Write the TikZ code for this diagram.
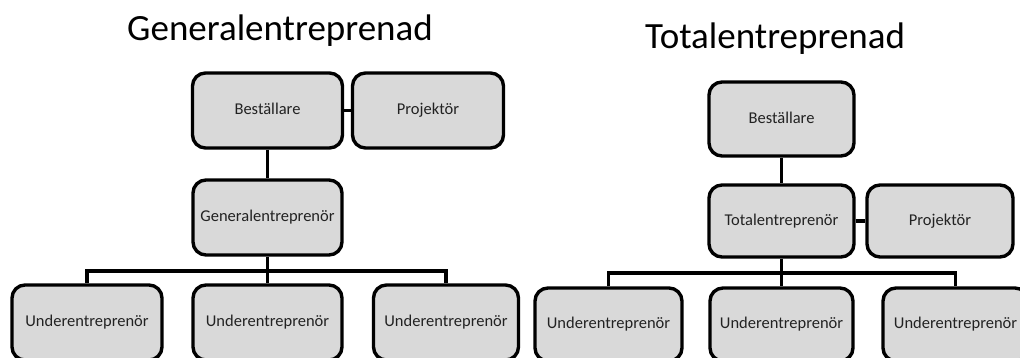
\documentclass[tikz,border=0pt]{standalone}
\usepackage{fontspec}
\setmainfont{Carlito}
\usetikzlibrary{backgrounds}
\definecolor{boxfill}{HTML}{D9D9D9}
\definecolor{boxtext}{HTML}{222222}
\tikzset{
  orgbox/.style={draw=black, line width=3.4pt, fill=boxfill, rounded corners=13pt,
    text=boxtext, font=\fontsize{16.5}{19}\selectfont, align=center, inner sep=0pt,
    text height=11pt, text depth=3pt},
  link/.style={draw=black, line width=3.2pt},
  heading/.style={font=\fontsize{37}{42}\selectfont, text=black, anchor=base, inner sep=0pt}
}
\begin{document}
\begin{tikzpicture}[x=1pt,y=-1pt]
\useasboundingbox (0,0) rectangle (1020,357);
\clip (0,0) rectangle (1020,357);

% Left chart
\node[heading] (t1) at (280,40) {Generalentreprenad};
\node[orgbox, minimum width=150pt, minimum height=75pt] (B1) at (267.5,110.5) {Beställare};
\node[orgbox, minimum width=151pt, minimum height=75pt] (P1) at (428,110.5) {Projektör};
\node[orgbox, minimum width=149pt, minimum height=75pt] (G1) at (267.5,217.5) {Generalentreprenör};
\node[orgbox, minimum width=150pt, minimum height=75pt] (U1a) at (87,322.5) {Underentreprenör};
\node[orgbox, minimum width=149pt, minimum height=75pt] (U1b) at (267.5,322.5) {Underentreprenör};
\node[orgbox, minimum width=145pt, minimum height=75pt] (U1c) at (446,322.5) {Underentreprenör};
\coordinate (j1) at (267.5,271);

% Right chart
\node[heading] (t2) at (775,48) {Totalentreprenad};
\node[orgbox, minimum width=145pt, minimum height=74pt] (B2) at (781.5,119) {Beställare};
\node[orgbox, minimum width=145pt, minimum height=72pt] (T2) at (781.5,221) {Totalentreprenör};
\node[orgbox, minimum width=146pt, minimum height=72pt] (P2) at (940,221) {Projektör};
\node[orgbox, minimum width=147pt, minimum height=73pt] (U2a) at (608.5,324.5) {Underentreprenör};
\node[orgbox, minimum width=143pt, minimum height=73pt] (U2b) at (781.5,324.5) {Underentreprenör};
\node[orgbox, minimum width=145pt, minimum height=73pt] (U2c) at (955.5,324.5) {Underentreprenör};
\coordinate (j2) at (781.5,273);

\begin{pgfonlayer}{background}
  \draw[link] (B1) -- (P1);
  \draw[link] (B1) -- (G1);
  \draw[link] (G1) -- (U1b);
  \draw[link] (U1a.north) |- (j1) -| (U1c.north);
  \draw[link] (B2) -- (T2);
  \draw[link] (T2) -- (P2);
  \draw[link] (T2) -- (U2b);
  \draw[link] (U2a.north) |- (j2) -| (U2c.north);
\end{pgfonlayer}
\end{tikzpicture}
\end{document}
